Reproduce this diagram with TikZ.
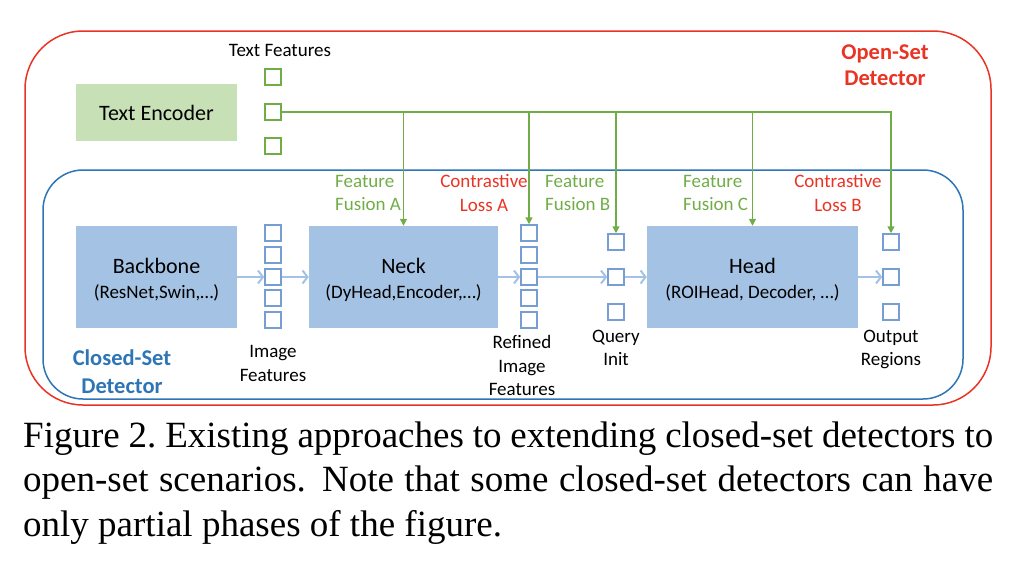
\documentclass[tikz,border=0pt]{standalone}
\usepackage{fontspec}
\setmainfont{Carlito}
\newfontfamily\capfont{Liberation Serif}
\usetikzlibrary{arrows.meta}
\definecolor{osred}{RGB}{234,51,35}
\definecolor{csblue}{RGB}{46,117,182}
\definecolor{encgreen}{RGB}{200,224,182}
\definecolor{fusegreen}{RGB}{112,173,71}
\definecolor{blkblue}{RGB}{164,194,227}
\definecolor{sqblue}{RGB}{118,158,212}
\def\fsz#1#2{\fontsize{#1}{#2}\selectfont}
\def\blktitle#1{{\fsz{22}{25}\rule{0pt}{21.5pt}#1}}
\def\capline#1{\makebox[970pt][s]{#1}}
\tikzset{
	blk/.style={fill=blkblue, minimum width=#1, minimum height=102pt, inner sep=0pt, align=center, font=\fsz{19}{25}},
	sqg/.style={draw=fusegreen, line width=1.5pt, minimum size=16pt, inner sep=0pt},
	sqb/.style={draw=sqblue, line width=1.5pt, minimum size=16pt, inner sep=0pt},
	lbl/.style={inner sep=0pt, align=center, font=\fsz{19}{23.5}},
	bold/.style={inner sep=0pt, align=center, font=\fsz{22.5}{26}\bfseries},
	garrow/.style={draw=fusegreen, line width=1.5pt, -{Triangle[length=7pt,width=7pt]}},
	barrow/.style={draw=blkblue, line width=2pt, -{Straight Barb[length=5pt,width=13pt]}}
}

\begin{document}
\begin{tikzpicture}[x=1pt, y=-1pt]
			%%%%% START %%%%%
			\useasboundingbox (0,0) rectangle (1026,566);
			
			\draw[osred, line width=1.5pt, rounded corners=58pt] (25,31) rectangle (991,405);
			\draw[csblue, line width=1.5pt, rounded corners=40pt] (43,170) rectangle (963,399);
			
			\node[fill=encgreen, minimum width=161pt, minimum height=57pt, inner sep=0pt, font=\fsz{22}{26}] (txtenc) at (156.5,112.5) {Text Encoder};
			\node[blk=161pt] (backbone) at (156.5,277) {\blktitle{Backbone}\\(ResNet,Swin,…)};
			\node[blk=189pt] (neck) at (403.5,277) {\blktitle{Neck}\\(DyHead,Encoder,…)};
			\node[blk=211pt] (head) at (752.5,277) {\blktitle{Head}\\(ROIHead, Decoder, …)};
			
			\foreach \i/\y in {1/77,2/112,3/146}
				\node[sqg] (txtf\i) at (273,\y) {};
			\foreach \i/\y in {1/233,2/255,3/277,4/298,5/320} {
				\node[sqb] (imgf\i) at (273,\y) {};
				\node[sqb] (reff\i) at (529,\y) {};
			}
			\foreach \i/\y in {1/242,2/277,3/312} {
				\node[sqb] (qry\i) at (616,\y) {};
				\node[sqb] (outr\i) at (891,\y) {};
			}
			
			\node[lbl] (txtflbl) at (280,50) {Text Features};
			\node[lbl, align=left, anchor=west, text=fusegreen] (fusea) at (335,193) {Feature\\Fusion A};
			\node[lbl, text=osred] (cona) at (484,193) {Contrastive\\Loss A};
			\node[lbl, align=left, anchor=west, text=fusegreen] (fuseb) at (545,193) {Feature\\Fusion B};
			\node[lbl, align=left, anchor=west, text=fusegreen] (fusec) at (683,193) {Feature\\Fusion C};
			\node[lbl, text=osred] (conb) at (838,193) {Contrastive\\Loss B};
			\node[bold, text=osred] (osd) at (885,65) {Open-Set\\Detector};
			\node[bold, text=csblue, font=\fsz{22.5}{28}\bfseries] (csd) at (122,372) {Closed-Set\\Detector};
			\node[lbl] (imgflbl) at (273,363.5) {Image\\Features};
			\node[lbl] (refflbl) at (522,365.5) {Refined\\Image\\Features};
			\node[lbl] (qrylbl) at (616,348) {Query\\Init};
			\node[lbl] (outrlbl) at (891,349.5) {Output\\Regions};
			
			\draw[barrow] (backbone.east) -- (imgf3.west);
			\draw[barrow] (imgf3.east) -- (neck.west);
			\draw[barrow] (neck.east) -- (reff3.west);
			\draw[barrow] (reff3.east) -- (qry2.west);
			\draw[barrow] (qry2.east) -- (head.west);
			\draw[barrow] (head.east) -- (outr2.west);
			
			\draw[garrow] (txtf2.east) -| (outr1.north);
			\draw[garrow] (txtf2.east -| neck.north) -- (neck.north);
			\draw[garrow] (txtf2.east -| reff1.north) -- (reff1.north);
			\draw[garrow] (txtf2.east -| qry1.north) -- (qry1.north);
			\draw[garrow] (txtf2.east -| head.north) -- (head.north);
			
			\node[anchor=north west, inner sep=0pt, align=left, font=\capfont\fsz{37}{44.5}] (cap) at (23,421.5) {\capline{Figure 2.\ Existing approaches to extending closed-set detectors to}\\\capline{open-set scenarios. Note that some closed-set detectors can have}\\only partial phases of the figure.};
			%%%%% END %%%%%
\end{tikzpicture}
\end{document}
